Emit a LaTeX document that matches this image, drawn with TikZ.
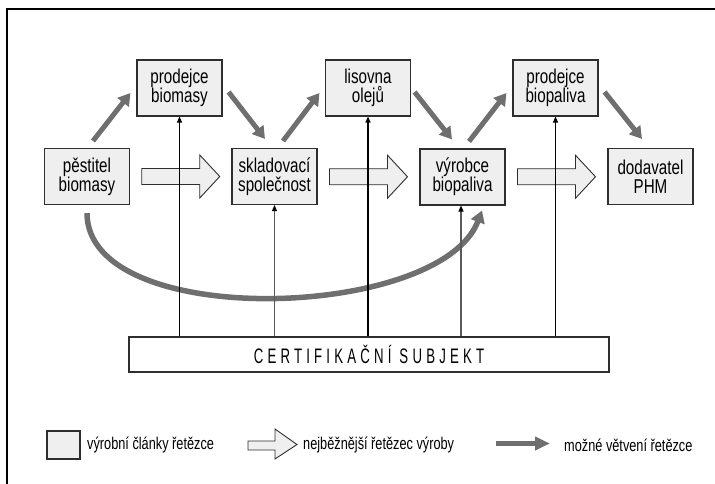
\documentclass[tikz,border=0pt]{standalone}
\usepackage{fontspec}
\setmainfont{Liberation Sans}[FakeStretch=0.76]
\newfontfamily\legendfont{Liberation Sans}[FakeStretch=0.75]
\newfontfamily\certfont{Liberation Sans}[FakeStretch=0.63,LetterSpace=20]
\usetikzlibrary{arrows.meta,calc}

\definecolor{boxfill}{HTML}{EEEFEE}
\definecolor{branchgray}{HTML}{6F6F6F}
\definecolor{edgegray}{HTML}{2E2E2E}
\definecolor{certgray}{HTML}{5A5A5A}

\tikzset{
  chainbox/.style={draw=edgegray, line width=1.1pt, fill=boxfill, minimum width=85pt,
    minimum height=56pt, align=center, inner sep=0pt, font=\fontsize{20}{19}\selectfont},
  branch/.style={draw=branchgray, line width=5pt, -{Triangle[length=12pt,width=14pt]}},
  certline/.style={line width=1.1pt, -{Triangle[length=6pt,width=5pt,color=black]}},
  legendtext/.style={anchor=west, inner sep=0pt, font=\legendfont\fontsize{17}{17}\selectfont},
  chainarrow/.pic={
    \draw[edgegray, line width=0.9pt, fill=boxfill] (-39,-8) -- (19,-8) -- (19,-21.5)
      -- (39,0) -- (19,21.5) -- (19,8) -- (-39,8) -- cycle;
  }
}

\begin{document}
\begin{tikzpicture}[x=1pt, y=-1pt]
\useasboundingbox (0,0) rectangle (715,484);

\draw[line width=1.6pt, black] (7,484) -- (7,9) -- (715,9);

% upper row
\node (prodbio) at (179.5, 88) [chainbox] {prodejce\\biomasy};
\node (lisovna) at (368, 88) [chainbox] {lisovna\\olejů};
\node (prodpal) at (555.5, 88) [chainbox] {prodejce\\biopaliva};

% lower row
\node (pest) at (87, 176.5) [chainbox] {pěstitel\\biomasy};
\node (sklad) at (274.5, 176.5) [chainbox] {skladovací\\společnost};
\node (vyrobce) at (462.5, 177) [chainbox] {výrobce\\biopaliva};
\node (dodav) at (650.5, 176.5) [chainbox] {dodavatel\\PHM};

\node (cert) at (369, 354.5) [draw=edgegray, line width=1.1pt, fill=white,
  minimum width=480pt, minimum height=35pt,
  font=\certfont\fontsize{21}{21}\selectfont] {CERTIFIKAČNÍ SUBJEKT};

% main chain
\pic at ($(pest.east)!0.5!(sklad.west)$) {chainarrow};
\pic at ($(sklad.east)!0.5!(vyrobce.west)$) {chainarrow};
\pic at ($(vyrobce.east)!0.5!(dodav.west)$) {chainarrow};

% branches
\draw[branch, line width=5.5pt] ([yshift=-8pt]pest.south)
  .. controls +(0,118) and +(-42,110) .. ([xshift=19.5pt,yshift=-5pt]vyrobce.south);
\draw[branch] ([xshift=6pt,yshift=7pt]pest.north) -- ([xshift=-6pt,yshift=-5pt]prodbio.west);
\draw[branch] ([xshift=6pt,yshift=-4pt]prodbio.east) -- ([xshift=-9.5pt,yshift=9pt]sklad.north);
\draw[branch] ([xshift=8.5pt,yshift=7pt]sklad.north) -- ([xshift=-5.5pt,yshift=-5pt]lisovna.west);
\draw[branch] ([xshift=3.5pt,yshift=-4pt]lisovna.east) -- ([xshift=-10.5pt,yshift=9pt]vyrobce.north);
\draw[branch] ([xshift=6.5pt,yshift=7pt]vyrobce.north) -- ([xshift=-6pt,yshift=-5pt]prodpal.west);
\draw[branch] ([xshift=6pt,yshift=-4pt]prodpal.east) -- ([xshift=-8.5pt,yshift=9pt]dodav.north);

% certification
\draw[certline] (cert.north -| prodbio.south) -- (prodbio.south);
\draw[certline, certgray] (cert.north -| sklad.south) -- (sklad.south);
\draw[certline] (cert.north -| lisovna.south) -- (lisovna.south);
\draw[certline, certgray] ([xshift=-1.5pt]cert.north -| vyrobce.south) -- ([xshift=-1.5pt]vyrobce.south);
\draw[certline] (cert.north -| prodpal.south) -- (prodpal.south);

% legend
\node (legbox) at (63.5, 445) [chainbox, minimum width=33pt, minimum height=28pt] {};
\node (legboxtext) at (87, 445) [legendtext] {výrobní články řetězce};
\draw[edgegray, line width=0.9pt, fill=boxfill] (248,441) -- (275,441) -- (275,429)
  -- (297,444.5) -- (275,459) -- (275,450) -- (248,450) -- cycle;
\node (legarrowtext) at (303, 445) [legendtext] {nejběžnější řetězec výroby};
\coordinate (legbranchA) at (496, 443.5);
\coordinate (legbranchB) at (550, 443.5);
\draw[branch, -{Triangle[length=15pt,width=13pt]}] (legbranchA) -- (legbranchB);
\node (legbranchtext) at (564, 445) [legendtext] {možné větvení řetězce};
\end{tikzpicture}
\end{document}
